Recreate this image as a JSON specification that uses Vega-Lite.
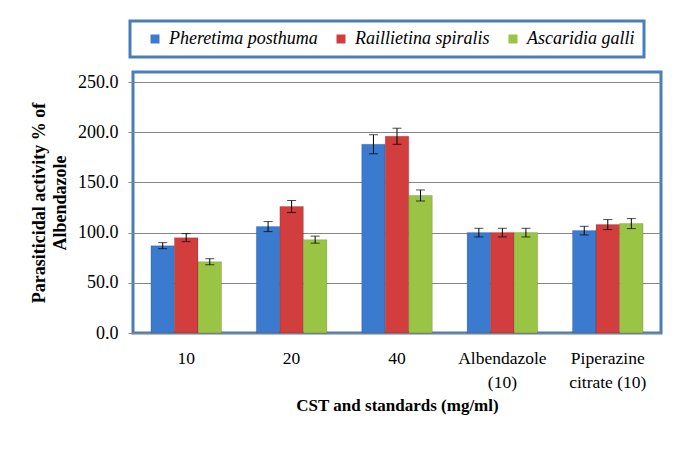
{
  "$schema": "https://vega.github.io/schema/vega-lite/v6.json",
  "width": 528,
  "height": 261,
  "autosize": {"type": "none"},
  "padding": {"left": 133, "top": 72, "right": 24, "bottom": 117},
  "background": "white",
  "config": {
    "font": "Liberation Serif",
    "view": {"stroke": "#4a7ebb", "strokeWidth": 3},
    "axis": {"labelFont": "Liberation Serif", "titleFont": "Liberation Serif", "labelColor": "#000", "titleColor": "#000"},
    "legend": {
      "orient": "none",
      "legendX": -3,
      "legendY": -51,
      "direction": "horizontal",
      "padding": 9,
      "strokeColor": "#4a7ebb",
      "strokeWidth": 3,
      "fillColor": "white",
      "labelFont": "Liberation Serif",
      "labelFontStyle": "italic",
      "labelFontSize": 18,
      "labelColor": "#000",
      "symbolType": "square",
      "symbolSize": 81,
      "symbolOffset": 7,
      "labelOffset": 5,
      "columnPadding": 7,
      "symbolStrokeWidth": 0
    }
  },
  "data": {
    "values": [
      {"cat": "10", "species": "Pheretima posthuma", "value": 87, "lo": 84, "hi": 90},
      {"cat": "10", "species": "Raillietina spiralis", "value": 95, "lo": 91, "hi": 99},
      {"cat": "10", "species": "Ascaridia galli", "value": 71, "lo": 68, "hi": 74},
      {"cat": "20", "species": "Pheretima posthuma", "value": 106, "lo": 101, "hi": 111},
      {"cat": "20", "species": "Raillietina spiralis", "value": 126, "lo": 120, "hi": 132},
      {"cat": "20", "species": "Ascaridia galli", "value": 93, "lo": 89.5, "hi": 96.5},
      {"cat": "40", "species": "Pheretima posthuma", "value": 188, "lo": 178.5, "hi": 197.5},
      {"cat": "40", "species": "Raillietina spiralis", "value": 196, "lo": 188, "hi": 204},
      {"cat": "40", "species": "Ascaridia galli", "value": 137, "lo": 131.5, "hi": 142.5},
      {"cat": "Albendazole|(10)", "species": "Pheretima posthuma", "value": 100, "lo": 95.7, "hi": 104.3},
      {"cat": "Albendazole|(10)", "species": "Raillietina spiralis", "value": 100, "lo": 95.7, "hi": 104.3},
      {"cat": "Albendazole|(10)", "species": "Ascaridia galli", "value": 100, "lo": 95.7, "hi": 104.3},
      {"cat": "Piperazine|citrate (10)", "species": "Pheretima posthuma", "value": 102, "lo": 97.7, "hi": 106.3},
      {"cat": "Piperazine|citrate (10)", "species": "Raillietina spiralis", "value": 108, "lo": 103, "hi": 113},
      {"cat": "Piperazine|citrate (10)", "species": "Ascaridia galli", "value": 109, "lo": 104, "hi": 114}
    ]
  },
  "encoding": {
    "x": {
      "field": "cat",
      "type": "nominal",
      "sort": null,
      "scale": {"paddingInner": 0.33, "paddingOuter": 0.17},
      "axis": {
        "title": "CST and standards (mg/ml)",
        "labelExpr": "split(datum.label, '|')",
        "labelAngle": 0,
        "labelFontSize": 17.5,
        "labelPadding": 16,
        "labelLineHeight": 24,
        "ticks": false,
        "domain": false,
        "titleFontSize": 17,
        "titleFontWeight": "bold",
        "titlePadding": 7
      }
    },
    "xOffset": {
      "field": "species",
      "type": "nominal",
      "sort": ["Pheretima posthuma", "Raillietina spiralis", "Ascaridia galli"],
      "scale": {"paddingInner": 0, "paddingOuter": 0}
    }
  },
  "layer": [
    {
      "mark": {"type": "bar", "stroke": "#00000022", "strokeWidth": 1},
      "encoding": {
        "y": {
          "field": "value",
          "type": "quantitative",
          "scale": {"domain": [0, 250]},
          "axis": {
            "title": ["Parasiticidal activity   % of", "Albendazole"],
            "values": [0, 50, 100, 150, 200, 250],
            "format": ".1f",
            "labelFontSize": 18,
            "labelPadding": 10,
            "tickSize": 5,
            "tickColor": "#868686",
            "domain": false,
            "gridColor": "#868686",
            "gridWidth": 1,
            "titleFontSize": 18,
            "titleFontWeight": "bold",
            "titlePadding": 8,
            "titleLineHeight": 21
          }
        },
        "color": {
          "field": "species",
          "type": "nominal",
          "sort": ["Pheretima posthuma", "Raillietina spiralis", "Ascaridia galli"],
          "scale": {"range": ["#3a7bd0", "#d23d3d", "#99c444"]},
          "legend": {"title": null, "labelFont": "Liberation Serif"}
        }
      }
    },
    {
      "mark": {"type": "rule", "color": "#000", "strokeWidth": 1},
      "encoding": {
        "y": {"field": "lo", "type": "quantitative"},
        "y2": {"field": "hi"}
      }
    },
    {
      "mark": {"type": "tick", "color": "#000", "thickness": 1, "size": 9},
      "encoding": {"y": {"field": "lo", "type": "quantitative"}}
    },
    {
      "mark": {"type": "tick", "color": "#000", "thickness": 1, "size": 9},
      "encoding": {"y": {"field": "hi", "type": "quantitative"}}
    }
  ]
}
